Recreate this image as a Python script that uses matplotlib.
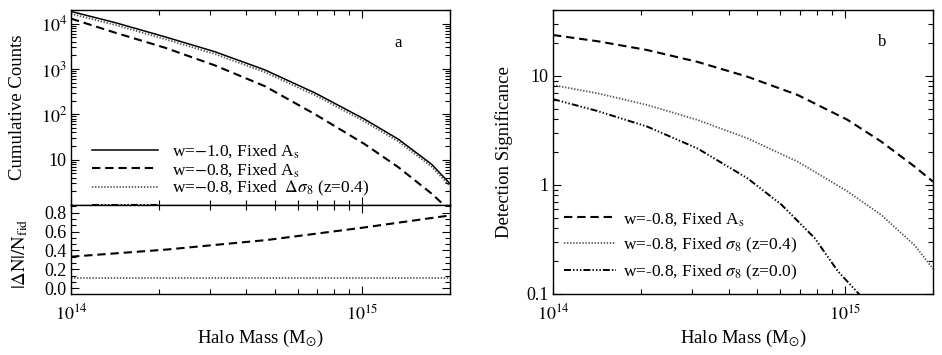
import numpy as np
import matplotlib
matplotlib.use("Agg")
import matplotlib.pyplot as plt
from matplotlib.ticker import FixedLocator, NullFormatter, LogLocator, MultipleLocator, AutoMinorLocator

plt.rcParams['font.family'] = ['Liberation Serif', 'DejaVu Serif']
plt.rcParams['mathtext.fontset'] = 'stix'
plt.rcParams['lines.scale_dashes'] = False

# ---- data (masses in M_sun) ----
mass = [1.0e14, 1.42e14, 2.10e14, 3.12e14, 4.63e14, 6.89e14, 1.02e15, 1.33e15, 1.73e15, 2.0e15]

# panel a: cumulative counts
n_w10_As = [18600, 10500, 5130, 2400, 955, 295, 77.6, 28.2, 7.9, 2.95]
n_w08_As = [12900, 6300, 2950, 1200, 417, 100, 21.9, 6.8, 1.78, 0.75]
n_w08_s8 = [16500, 9350, 4570, 2140, 850, 263, 69, 25.1, 7.0, 2.6]

# panel a, lower: fractional difference
mass_frac = [1.0e14, 2.14e14, 3.16e14, 4.7e14, 1.0e15, 2.0e15]
frac_As = [0.334, 0.41, 0.46, 0.51, 0.64, 0.77]
frac_s8 = [0.11, 0.11, 0.11, 0.11, 0.11, 0.11]

# panel b: detection significance
sig_As = [23.6, 20.7, 17.2, 13.4, 9.8, 6.65, 3.94, 2.49, 1.47, 1.07]
sig_s8_z04 = [8.2, 6.9, 5.4, 3.94, 2.67, 1.63, 0.87, 0.53, 0.28, 0.17]
mass_z00 = [1.0e14, 1.42e14, 2.10e14, 3.12e14, 4.63e14, 6.05e14, 7.87e14, 9.46e14, 1.12e15]
sig_s8_z00 = [6.1, 4.75, 3.42, 2.16, 1.15, 0.66, 0.325, 0.161, 0.099]

dash = (0, (6, 3.5))
dot = (0, (1, 1.2))
dashdot3 = (0, (5, 1.5, 1, 1.5, 1, 1.5, 1, 1.5))

fig = plt.figure(figsize=(9.42, 3.55), dpi=100)
W, H = 942.0, 355.0
ax1 = fig.add_axes([71/W, 1-205/H, 379/W, 195/H])
ax2 = fig.add_axes([71/W, 1-294/H, 379/W, 89/H])
ax3 = fig.add_axes([553/W, 1-294/H, 380/W, 284/H])


def style(ax):
    ax.tick_params(which='both', direction='in', top=True, right=True, labelsize=13)
    ax.tick_params(which='major', length=6, width=0.8)
    ax.tick_params(which='minor', length=3.5, width=0.8)
    ax.tick_params(axis='x', pad=7)
    ax.tick_params(axis='y', pad=3)
    for s in ax.spines.values():
        s.set_linewidth(1.0)


def mass_axis(ax, labels=True):
    ax.set_xscale('log')
    ax.set_xlim(1e14, 2e15)
    ax.xaxis.set_major_locator(FixedLocator([1e14, 1e15]))
    ax.xaxis.set_minor_locator(LogLocator(base=10, subs=np.arange(2, 10)))
    ax.xaxis.set_minor_formatter(NullFormatter())
    if labels:
        ax.set_xticklabels([r'$10^{14}$', r'$10^{15}$'])
        ax.set_xlabel(r'Halo Mass (M$_{\odot}$)', fontsize=13.5, labelpad=3)
    else:
        ax.set_xticklabels([])


# ---- panel a top ----
ax1.plot(mass, n_w10_As, color='black', lw=1.1, label=r'w=$-$1.0, Fixed A$_{\rm s}$')
ax1.plot(mass, n_w08_As, color='black', lw=1.5, ls=dash, label=r'w=$-$0.8, Fixed A$_{\rm s}$')
ax1.plot(mass, n_w08_s8, color='#555555', lw=1.3, ls=dot,
         label=r'w=$-$0.8, Fixed  $\Delta\sigma_8$ (z=0.4)')
ax1.plot([], [], color='black', lw=1.5, ls=dashdot3, label=' ')
ax1.set_yscale('log')
ax1.set_ylim(1, 2e4)
ax1.yaxis.set_major_locator(FixedLocator([10, 100, 1000, 10000]))
ax1.set_yticklabels(['10', r'$10^2$', r'$10^3$', r'$10^4$'])
ax1.yaxis.set_minor_locator(LogLocator(base=10, subs=np.arange(2, 10)))
ax1.yaxis.set_minor_formatter(NullFormatter())
mass_axis(ax1, labels=False)
style(ax1)
ax1.set_ylabel('Cumulative Counts', fontsize=13.5)
ax1.yaxis.set_label_coords(-0.12, 0.5)
ax1.text(0.863, 0.831, 'a', transform=ax1.transAxes, fontsize=12,
         ha='center', va='center')
ax1.legend(loc='upper left', bbox_to_anchor=(0.055, 0.32), frameon=False,
           fontsize=12.5, handlelength=3.8, handletextpad=0.8, labelspacing=0.03,
           borderpad=0, borderaxespad=0)

# ---- panel a bottom ----
ax2.plot(mass_frac, frac_As, color='black', lw=1.5, ls=dash)
ax2.plot(mass_frac, frac_s8, color='#555555', lw=1.3, ls=dot)
ax2.set_ylim(-0.06, 0.88)
ax2.yaxis.set_major_locator(MultipleLocator(0.2))
ax2.yaxis.set_minor_locator(AutoMinorLocator(3))
ax2.yaxis.set_major_formatter(plt.FuncFormatter(lambda v, p: '%.1f' % v))
mass_axis(ax2)
style(ax2)
ax2.set_ylabel(r'$|\Delta \mathrm{N}|/\mathrm{N}_{\rm fid}$', fontsize=13.5)
ax2.yaxis.set_label_coords(-0.108, 0.45)

# ---- panel b ----
ax3.plot(mass, sig_As, color='black', lw=1.5, ls=dash, label=r'w=-0.8, Fixed A$_{\rm s}$')
ax3.plot(mass, sig_s8_z04, color='#555555', lw=1.3, ls=dot,
         label=r'w=-0.8, Fixed $\sigma_8$ (z=0.4)')
ax3.plot(mass_z00, sig_s8_z00, color='black', lw=1.4, ls=dashdot3,
         label=r'w=-0.8, Fixed $\sigma_8$ (z=0.0)')
ax3.set_yscale('log')
ax3.set_ylim(0.1, 40)
ax3.yaxis.set_major_locator(FixedLocator([0.1, 1, 10]))
ax3.set_yticklabels(['0.1', '1', '10'])
ax3.yaxis.set_minor_locator(LogLocator(base=10, subs=np.arange(2, 10)))
ax3.yaxis.set_minor_formatter(NullFormatter())
mass_axis(ax3)
style(ax3)
ax3.set_ylabel('Detection Significance', fontsize=13.5)
ax3.yaxis.set_label_coords(-0.105, 0.5)
ax3.text(0.866, 0.887, 'b', transform=ax3.transAxes, fontsize=12,
         ha='center', va='center')
ax3.legend(loc='upper left', bbox_to_anchor=(0.03, 0.296), frameon=False,
           fontsize=12.5, handlelength=3.0, handletextpad=0.4, labelspacing=0.45,
           borderpad=0, borderaxespad=0)

fig.savefig('out.png', dpi=100)
